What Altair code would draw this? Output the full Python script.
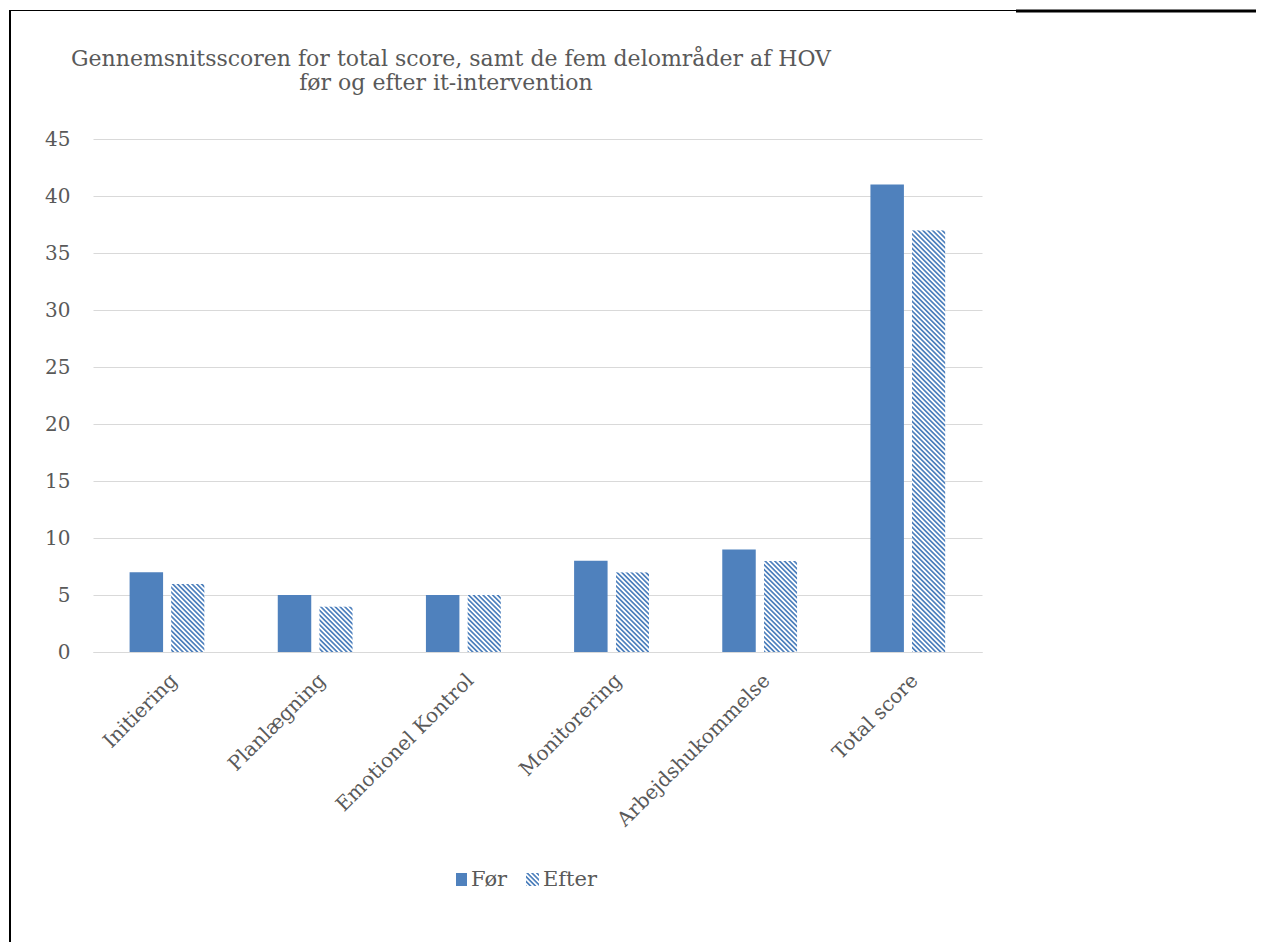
import base64
import altair as alt
import pandas as pd

categories = ["Initiering", "Planlægning", "Emotionel Kontrol", "Monitorering", "Arbejdshukommelse", "Total score"]
series = ["Før", "Efter"]
foer_values = [7, 5, 5, 8, 9, 41]
efter_values = [6, 4, 5, 7, 8, 37]
y_ticks = [0, 5, 10, 15, 20, 25, 30, 35, 40, 45]
title_lines = ["Gennemsnitsscoren for total score, samt de fem delområder af HOV", "før og efter it-intervention"]

BLUE = "#4F81BD"
TEXT = "#595959"
GRID = "#D9D9D9"
FONT = "DejaVu Serif"

W, H = 889, 513

rows = []
for c, v in zip(categories, foer_values):
    rows.append({"Kategori": c, "Serie": "Før", "Score": v})
for c, v in zip(categories, efter_values):
    rows.append({"Kategori": c, "Serie": "Efter", "Score": v})
df = pd.DataFrame(rows)
one = pd.DataFrame({"i": [0]})

hatch_svg = (
    '<svg xmlns="http://www.w3.org/2000/svg" width="100%" height="100%">'
    '<defs><pattern id="h" width="3.4" height="3.4" patternUnits="userSpaceOnUse" '
    'patternTransform="rotate(-45)"><rect x="0" y="0" width="1.7" height="3.4" fill="' + BLUE + '"/></pattern></defs>'
    '<rect x="0" y="0" width="100%" height="100%" fill="white"/>'
    '<rect x="0" y="0" width="100%" height="100%" fill="url(#h)"/></svg>'
)
hatch_uri = "data:image/svg+xml;base64," + base64.b64encode(hatch_svg.encode("utf-8")).decode("ascii")

x_enc = alt.X(
    "Kategori:N",
    sort=categories,
    scale=alt.Scale(paddingInner=0.494, paddingOuter=0.247),
    axis=alt.Axis(
        title=None,
        labelAngle=-45,
        labelFont=FONT,
        labelFontSize=20,
        labelColor=TEXT,
        labelPadding=18,
        ticks=False,
        domainColor=GRID,
        domainWidth=1,
        grid=False,
        labelLimit=400,
    ),
)
y_scale = alt.Scale(domain=[0, 45], nice=False)
y_enc = alt.Y(
    "Score:Q",
    scale=y_scale,
    axis=alt.Axis(
        title=None,
        values=y_ticks,
        labelFont=FONT,
        labelFontSize=20,
        labelColor=TEXT,
        labelPadding=23,
        ticks=False,
        domain=False,
        gridColor=GRID,
        gridWidth=1,
    ),
)
xoff_scale = alt.Scale(domain=series, paddingInner=0.193, paddingOuter=0)

base = alt.Chart(df)

bars_foer = base.transform_filter(alt.datum.Serie == "Før").mark_bar(color=BLUE).encode(
    x=x_enc,
    xOffset=alt.XOffset("Serie:N", scale=xoff_scale, sort=series),
    y=y_enc,
)

bars_efter = base.transform_filter(alt.datum.Serie == "Efter").mark_image(aspect=False).encode(
    x=alt.X("Kategori:N", sort=categories),
    xOffset=alt.XOffset("Serie:N", sort=series),
    y=alt.Y("Score:Q"),
    y2=alt.datum(0),
    url=alt.value(hatch_uri),
)

# title
title1 = alt.Chart(one).mark_text(
    text=title_lines[0], font=FONT, fontSize=22, color=TEXT, align="center", baseline="alphabetic"
).encode(x=alt.value(358), y=alt.value(-73))
title2 = alt.Chart(one).mark_text(
    text=title_lines[1], font=FONT, fontSize=22, color=TEXT, align="center", baseline="alphabetic"
).encode(x=alt.value(353), y=alt.value(-49))

# frame lines
frame_left = alt.Chart(one).mark_rule(color="black", strokeWidth=2).encode(
    x=alt.value(-83), y=alt.value(-129), y2=alt.value(H + 300)
)
frame_top = alt.Chart(one).mark_rule(color="black", strokeWidth=1).encode(
    x=alt.value(-83), x2=alt.value(923), y=alt.value(-128.5)
)
frame_top_thick = alt.Chart(one).mark_rule(color="black", strokeWidth=3).encode(
    x=alt.value(923), x2=alt.value(1180), y=alt.value(-128)
)

# custom legend
leg_foer_sym = alt.Chart(one).mark_rect(color=BLUE).encode(
    x=alt.value(363), x2=alt.value(374), y=alt.value(734), y2=alt.value(747)
)
leg_foer_txt = alt.Chart(one).mark_text(
    text=series[0], font=FONT, fontSize=21, color=TEXT, align="left", baseline="alphabetic"
).encode(x=alt.value(378), y=alt.value(747))
leg_efter_sym = alt.Chart(one).mark_image(aspect=False).encode(
    x=alt.value(433), x2=alt.value(446), y=alt.value(734), y2=alt.value(747), url=alt.value(hatch_uri)
)
leg_efter_txt = alt.Chart(one).mark_text(
    text=series[1], font=FONT, fontSize=21, color=TEXT, align="left", baseline="alphabetic"
).encode(x=alt.value(450), y=alt.value(747))

chart = alt.layer(
    bars_foer, bars_efter,
    title1, title2,
    frame_left, frame_top, frame_top_thick,
    leg_foer_sym, leg_foer_txt, leg_efter_sym, leg_efter_txt,
).properties(
    width=W,
    height=H,
    background="white",
    padding={"left": 85, "top": 131, "right": 274, "bottom": 290},
    autosize=alt.AutoSizeParams(type="none"),
).configure_view(stroke="transparent", strokeWidth=0)

chart.save("out.html", embed_options={"renderer": "svg", "actions": False})
